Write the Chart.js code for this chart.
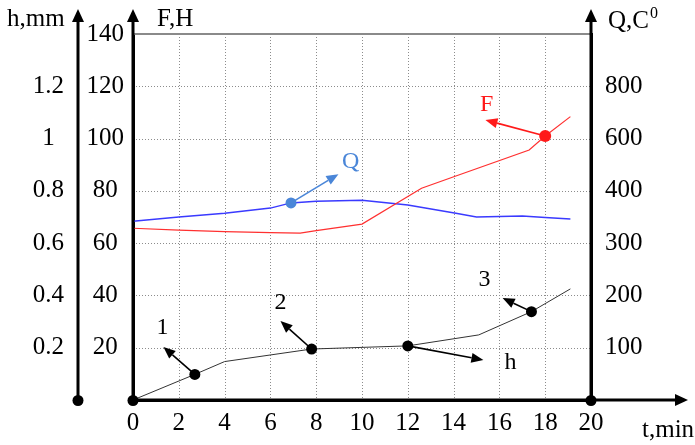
<!DOCTYPE html>
<html>
<head>
<meta charset="utf-8">
<script src="https://cdn.jsdelivr.net/npm/chart.js@4"></script>
<style>
  html, body { margin: 0; padding: 0; background: #fff; }
  #wrap { width: 695px; height: 445px; position: relative; }
</style>
</head>
<body>
<div id="wrap"><canvas id="chart"></canvas></div>
<script>
// h, mm (black line, curve "h")
const hTimes  = [0, 2.7, 4, 7.8, 12, 15.1, 17.4, 19.1];
const hValues = [0, 0.098, 0.147, 0.195, 0.207, 0.249, 0.338, 0.425];
const hMarked = [1, 3, 4, 6];

// F, H (red line)
const fTimes  = [0, 2, 4, 6, 7.3, 8, 10, 12.6, 14.1, 17.3, 18, 19.1];
const fValues = [65.7, 65.0, 64.4, 64.0, 63.8, 64.8, 67.3, 81.0, 85.7, 95.6, 101.0, 108.4];
const fMarked = [10];

// Q, C0 (blue line)
const qTimes  = [0, 2, 4, 6, 6.9, 8, 10, 12, 14.1, 15, 17, 18, 19.1];
const qValues = [342, 350, 357, 367, 377, 380, 382, 373, 357, 350, 352, 349, 346];
const qMarked = [4];

// tick labels as printed on each axis
const hTickLabels = ['', '0.2', '0.4', '0.6', '0.8', '1', '1.2', ''];
const fTickLabels = ['', '20', '40', '60', '80', '100', '120', '140'];
const qTickLabels = ['', '100', '200', '300', '400', '600', '800', ''];

// callouts: numbered pointers from marked points
const callouts = [
  { axis: 'yH', ds: 0, idx: 1, tip: [1.33, 0.203], text: '1', at: [1.29, 0.275], color: '#000' },
  { axis: 'yH', ds: 0, idx: 3, tip: [6.44, 0.302], text: '2', at: [6.44, 0.371], color: '#000' },
  { axis: 'yH', ds: 0, idx: 4, tip: [15.3, 0.153], text: 'h', at: [16.48, 0.142], color: '#000' },
  { axis: 'yH', ds: 0, idx: 6, tip: [16.14, 0.390], text: '3', at: [15.35, 0.459], color: '#000' },
  { axis: 'yF', ds: 1, idx: 10, tip: [15.39, 107.1], text: 'F', at: [15.44, 112.9], color: '#ff1a1a' },
  { axis: 'yQ', ds: 2, idx: 4, tip: [8.97, 432], text: 'Q', at: [9.5, 455], color: '#4a86d8' }
];

const serif = 'Liberation Serif';

function pts(xs, ys) {
  return xs.map((x, i) => ({ x: x, y: ys[i] }));
}
function radii(n, marked, r) {
  return Array.from({ length: n }, (_, i) => marked.includes(i) ? r : 0);
}

function arrow(ctx, x1, y1, x2, y2, color, len, half, lw) {
  const a = Math.atan2(y2 - y1, x2 - x1);
  const bx = x2 - len * Math.cos(a), by = y2 - len * Math.sin(a);
  ctx.save();
  ctx.strokeStyle = color;
  ctx.fillStyle = color;
  ctx.lineWidth = lw;
  ctx.setLineDash([]);
  ctx.beginPath();
  ctx.moveTo(x1, y1);
  ctx.lineTo(bx, by);
  ctx.stroke();
  ctx.beginPath();
  ctx.moveTo(x2, y2);
  ctx.lineTo(bx + half * Math.sin(a), by - half * Math.cos(a));
  ctx.lineTo(bx - half * Math.sin(a), by + half * Math.cos(a));
  ctx.closePath();
  ctx.fill();
  ctx.restore();
}

function dot(ctx, x, y, r, color) {
  ctx.beginPath();
  ctx.arc(x, y, r, 0, Math.PI * 2);
  ctx.fillStyle = color;
  ctx.fill();
}

// dotted grid, drawn from the library's own tick positions
const dottedGrid = {
  id: 'dottedGrid',
  beforeDatasetsDraw(chart) {
    const { ctx, chartArea: ca, scales } = chart;
    ctx.save();
    ctx.strokeStyle = '#8c8c8c';
    ctx.lineWidth = 1;
    ctx.setLineDash([1, 2]);
    scales.x.ticks.forEach(t => {
      if (t.value <= scales.x.min || t.value >= scales.x.max) return;
      const x = Math.round(scales.x.getPixelForValue(t.value)) + 0.5;
      ctx.beginPath();
      ctx.moveTo(x, ca.top);
      ctx.lineTo(x, ca.bottom);
      ctx.stroke();
    });
    scales.yF.ticks.forEach(t => {
      if (t.value <= scales.yF.min || t.value >= scales.yF.max) return;
      const y = Math.round(scales.yF.getPixelForValue(t.value)) + 0.5;
      ctx.beginPath();
      ctx.moveTo(ca.left, y);
      ctx.lineTo(ca.right, y);
      ctx.stroke();
    });
    ctx.restore();
  }
};

const decor = {
  id: 'decor',
  afterDraw(chart) {
    const { ctx, chartArea: ca, scales } = chart;
    const hx = scales.yH.right;
    const topTip = 9, topBase = 22;

    // solid top frame line
    ctx.save();
    ctx.strokeStyle = '#8a8a8a';
    ctx.lineWidth = 2;
    ctx.beginPath();
    ctx.moveTo(ca.left, ca.top);
    ctx.lineTo(ca.right, ca.top);
    ctx.stroke();

    // axes with arrows
    ctx.strokeStyle = '#000';
    ctx.lineWidth = 3;
    [hx, ca.left, ca.right].forEach(x => {
      ctx.beginPath();
      ctx.moveTo(x, ca.bottom);
      ctx.lineTo(x, topBase);
      ctx.stroke();
      arrow(ctx, x, topBase, x, topTip, '#000', 13, 6, 3);
    });
    ctx.beginPath();
    ctx.moveTo(ca.left, ca.bottom);
    ctx.lineTo(676, ca.bottom);
    ctx.stroke();
    arrow(ctx, 676, ca.bottom, 688, ca.bottom, '#000', 13, 6, 3);
    [hx, ca.left, ca.right].forEach(x => dot(ctx, x, ca.bottom + 0.5, 5.5, '#000'));

    // axis titles
    ctx.fillStyle = '#000';
    ctx.textBaseline = 'alphabetic';
    ctx.textAlign = 'left';
    ctx.font = '25px "' + serif + '"';
    ctx.fillText('h,mm', 7, 26);
    ctx.fillText('F,H', 157, 26);
    ctx.fillText('Q,C', 608, 28);
    const qw = ctx.measureText('Q,C').width;
    ctx.fillText('t,min', 642, 437);
    ctx.font = '16px "' + serif + '"';
    ctx.fillText('0', 608 + qw + 1, 18);

    // callouts
    callouts.forEach(c => {
      const el = chart.getDatasetMeta(c.ds).data[c.idx];
      const ys = scales[c.axis];
      const tx = scales.x.getPixelForValue(c.tip[0]);
      const ty = ys.getPixelForValue(c.tip[1]);
      arrow(ctx, el.x, el.y, tx, ty, c.color, 12, 5, 1.6);
      ctx.font = '24px "' + serif + '"';
      ctx.fillStyle = c.color;
      ctx.textAlign = 'center';
      ctx.textBaseline = 'middle';
      ctx.fillText(c.text, scales.x.getPixelForValue(c.at[0]), ys.getPixelForValue(c.at[1]));
    });
    ctx.restore();
  }
};

const tickFont = { family: serif, size: 25 };

new Chart(document.getElementById('chart'), {
  type: 'line',
  data: {
    datasets: [
      {
        label: 'h', yAxisID: 'yH', data: pts(hTimes, hValues),
        borderColor: '#333', borderWidth: 1,
        pointRadius: radii(hTimes.length, hMarked, 5.5), pointBackgroundColor: '#000', pointBorderWidth: 0
      },
      {
        label: 'F', yAxisID: 'yF', data: pts(fTimes, fValues),
        borderColor: '#ff3030', borderWidth: 1.2,
        pointRadius: radii(fTimes.length, fMarked, 6), pointBackgroundColor: '#ff1a1a', pointBorderWidth: 0
      },
      {
        label: 'Q', yAxisID: 'yQ', data: pts(qTimes, qValues),
        borderColor: '#3a3aff', borderWidth: 1.5,
        pointRadius: radii(qTimes.length, qMarked, 5.5), pointBackgroundColor: '#4a86d8', pointBorderWidth: 0
      }
    ]
  },
  options: {
    responsive: true,
    maintainAspectRatio: false,
    animation: false,
    layout: { padding: { top: 34, left: 0, right: 0, bottom: 0 } },
    elements: { line: { tension: 0 } },
    plugins: { legend: { display: false }, tooltip: { enabled: false } },
    scales: {
      x: {
        type: 'linear', min: 0, max: 20,
        ticks: { stepSize: 2, font: tickFont, color: '#000', padding: 8, maxRotation: 0 },
        grid: { display: false, drawTicks: false },
        border: { color: '#000', width: 3 },
        afterFit: s => { s.height = 45; }
      },
      yH: {
        type: 'linear', position: 'left', weight: 1, min: 0, max: 1.4,
        ticks: { stepSize: 0.2, font: tickFont, color: '#000', padding: 14, crossAlign: 'center',
          callback: (v, i) => hTickLabels[i] },
        grid: { display: false, drawTicks: false },
        border: { display: false },
        afterFit: s => { s.width = 78; }
      },
      yF: {
        type: 'linear', position: 'left', weight: 0, min: 0, max: 140,
        ticks: { stepSize: 20, font: tickFont, color: '#000', padding: 9, crossAlign: 'center',
          callback: (v, i) => fTickLabels[i] },
        grid: { display: false, drawTicks: false },
        border: { color: '#000', width: 3 },
        afterFit: s => { s.width = 55; }
      },
      yQ: {
        type: 'linear', position: 'right', min: 0, max: 700,
        ticks: { stepSize: 100, font: tickFont, color: '#000', padding: 14, crossAlign: 'center',
          callback: (v, i) => qTickLabels[i] },
        grid: { display: false, drawTicks: false },
        border: { color: '#000', width: 3 },
        afterFit: s => { s.width = 104; }
      }
    }
  },
  plugins: [dottedGrid, decor]
});
</script>
</body>
</html>
